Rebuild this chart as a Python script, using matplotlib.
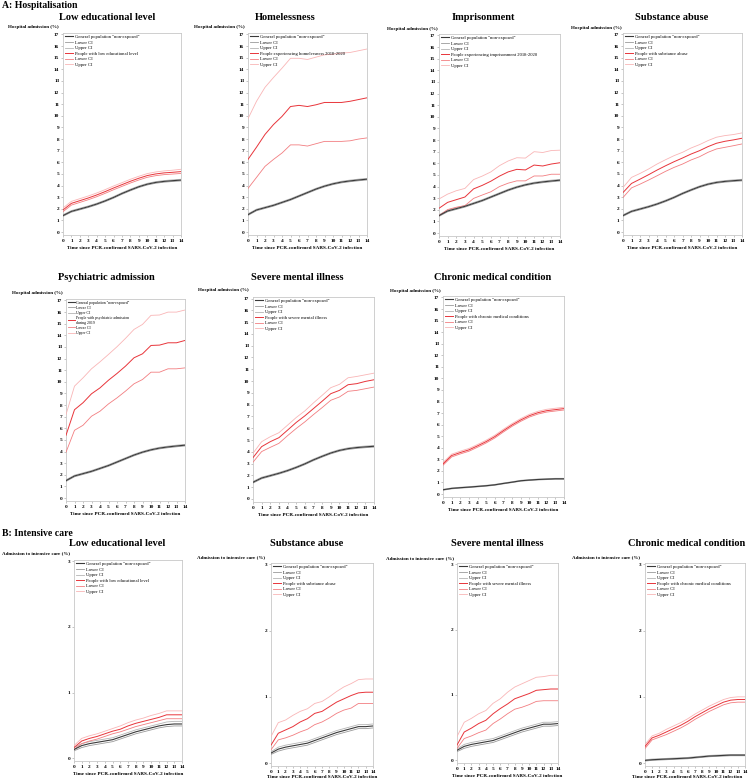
import matplotlib
matplotlib.use("Agg")
import matplotlib.pyplot as plt

plt.rcParams['font.family'] = ['Liberation Serif', 'DejaVu Serif']

W, H = 748, 783

days = list(range(15))

# ---- A: Hospitalisation, general population ("non-exposed") ----
hosp_gen_a = [1.42, 1.78, 1.98, 2.18, 2.41, 2.68, 2.98, 3.32, 3.62, 3.90, 4.12, 4.27, 4.36, 4.42, 4.47]
hosp_gen_a_lo = [1.35, 1.71, 1.91, 2.11, 2.34, 2.61, 2.91, 3.25, 3.55, 3.83, 4.05, 4.20, 4.29, 4.35, 4.40]
hosp_gen_a_hi = [1.49, 1.85, 2.05, 2.25, 2.48, 2.75, 3.05, 3.39, 3.69, 3.97, 4.19, 4.34, 4.43, 4.49, 4.54]
hosp_gen_b = [1.50, 1.90, 2.10, 2.30, 2.55, 2.80, 3.10, 3.40, 3.70, 3.95, 4.15, 4.30, 4.40, 4.48, 4.55]
hosp_gen_b_lo = [1.43, 1.83, 2.03, 2.23, 2.48, 2.73, 3.03, 3.33, 3.63, 3.88, 4.08, 4.23, 4.33, 4.41, 4.48]
hosp_gen_b_hi = [1.57, 1.97, 2.17, 2.37, 2.62, 2.87, 3.17, 3.47, 3.77, 4.02, 4.22, 4.37, 4.47, 4.55, 4.62]
hosp_gen_chronic = [0.37, 0.49, 0.55, 0.60, 0.66, 0.72, 0.80, 0.92, 1.03, 1.15, 1.21, 1.26, 1.29, 1.32, 1.32]
hosp_gen_chronic_lo = [0.33, 0.45, 0.51, 0.56, 0.62, 0.68, 0.76, 0.88, 0.99, 1.11, 1.17, 1.22, 1.25, 1.28, 1.28]
hosp_gen_chronic_hi = [0.41, 0.53, 0.59, 0.64, 0.70, 0.76, 0.84, 0.96, 1.07, 1.19, 1.25, 1.30, 1.33, 1.36, 1.36]

# ---- A: Hospitalisation, exposed groups ----
hosp_lowedu = [1.90, 2.47, 2.70, 2.93, 3.19, 3.48, 3.79, 4.08, 4.37, 4.63, 4.86, 5.00, 5.09, 5.14, 5.20]
hosp_lowedu_lo = [1.75, 2.32, 2.55, 2.78, 3.04, 3.33, 3.64, 3.93, 4.22, 4.48, 4.71, 4.85, 4.94, 4.99, 5.04]
hosp_lowedu_hi = [2.07, 2.64, 2.87, 3.10, 3.36, 3.65, 3.96, 4.25, 4.54, 4.80, 5.03, 5.17, 5.26, 5.32, 5.40]

hosp_homeless = [6.25, 7.30, 8.40, 9.25, 9.95, 10.80, 10.90, 10.80, 10.95, 11.15, 11.15, 11.15, 11.25, 11.40, 11.55]
hosp_homeless_lo = [3.75, 4.70, 5.65, 6.25, 6.80, 7.50, 7.50, 7.40, 7.60, 7.80, 7.80, 7.80, 7.85, 8.00, 8.10]
hosp_homeless_hi = [9.75, 11.25, 12.45, 13.30, 14.10, 14.95, 14.95, 14.85, 15.05, 15.25, 15.30, 15.40, 15.45, 15.60, 15.75]

hosp_prison = [2.13, 2.64, 2.87, 3.10, 3.80, 4.10, 4.46, 4.90, 5.26, 5.48, 5.43, 5.85, 5.77, 5.94, 6.05]
hosp_prison_lo = [1.50, 2.02, 2.22, 2.36, 2.98, 3.27, 3.55, 4.00, 4.29, 4.49, 4.49, 4.91, 4.91, 5.06, 5.06]
hosp_prison_hi = [2.93, 3.35, 3.64, 3.84, 4.60, 4.90, 5.26, 5.80, 6.20, 6.48, 6.45, 7.00, 6.93, 7.10, 7.13]

hosp_subst = [3.40, 4.18, 4.55, 4.93, 5.33, 5.70, 6.05, 6.37, 6.71, 7.00, 7.35, 7.64, 7.81, 7.93, 8.07]
hosp_subst_lo = [2.97, 3.80, 4.12, 4.47, 4.84, 5.22, 5.56, 5.85, 6.20, 6.48, 6.86, 7.15, 7.29, 7.43, 7.58]
hosp_subst_hi = [3.83, 4.70, 5.04, 5.42, 5.85, 6.22, 6.57, 6.86, 7.23, 7.52, 7.87, 8.16, 8.30, 8.39, 8.53]

hosp_psych = [5.40, 7.60, 8.20, 8.97, 9.48, 10.14, 10.72, 11.35, 12.07, 12.41, 13.13, 13.16, 13.36, 13.36, 13.56]
hosp_psych_lo = [3.94, 5.83, 6.26, 7.04, 7.47, 8.10, 8.62, 9.20, 9.83, 10.20, 10.83, 10.83, 11.12, 11.12, 11.20]
hosp_psych_hi = [7.18, 9.63, 10.34, 11.12, 11.72, 12.36, 13.02, 13.74, 14.51, 14.94, 15.72, 15.75, 16.00, 16.00, 16.18]

hosp_smi = [3.51, 4.44, 4.86, 5.20, 5.84, 6.49, 7.05, 7.67, 8.29, 8.93, 9.21, 9.69, 9.78, 9.97, 10.11]
hosp_smi_lo = [3.12, 4.02, 4.38, 4.72, 5.37, 5.98, 6.54, 7.16, 7.75, 8.37, 8.65, 9.13, 9.21, 9.35, 9.49]
hosp_smi_hi = [3.88, 4.86, 5.28, 5.62, 6.26, 6.91, 7.47, 8.15, 8.79, 9.44, 9.72, 10.28, 10.39, 10.53, 10.67]

hosp_chronic = [2.61, 3.33, 3.59, 3.82, 4.17, 4.54, 4.97, 5.49, 5.98, 6.41, 6.78, 7.04, 7.21, 7.30, 7.39]
hosp_chronic_lo = [2.49, 3.21, 3.47, 3.70, 4.05, 4.42, 4.85, 5.37, 5.86, 6.29, 6.66, 6.92, 7.09, 7.18, 7.27]
hosp_chronic_hi = [2.73, 3.45, 3.71, 3.94, 4.29, 4.66, 5.09, 5.61, 6.10, 6.53, 6.90, 7.16, 7.33, 7.42, 7.51]

# ---- B: Intensive care ----
icu_gen_a = [0.13, 0.19, 0.22, 0.24, 0.26, 0.28, 0.32, 0.36, 0.40, 0.43, 0.46, 0.49, 0.51, 0.52, 0.52]
icu_gen_a_lo = [0.11, 0.16, 0.19, 0.21, 0.23, 0.25, 0.29, 0.33, 0.37, 0.40, 0.43, 0.46, 0.48, 0.49, 0.49]
icu_gen_a_hi = [0.16, 0.22, 0.25, 0.27, 0.29, 0.31, 0.35, 0.39, 0.43, 0.46, 0.49, 0.52, 0.55, 0.56, 0.56]
icu_gen_b = [0.15, 0.21, 0.24, 0.26, 0.28, 0.30, 0.34, 0.38, 0.42, 0.46, 0.49, 0.52, 0.55, 0.55, 0.56]
icu_gen_b_lo = [0.13, 0.18, 0.21, 0.23, 0.25, 0.27, 0.31, 0.35, 0.39, 0.43, 0.46, 0.49, 0.52, 0.52, 0.53]
icu_gen_b_hi = [0.17, 0.24, 0.27, 0.29, 0.31, 0.33, 0.37, 0.41, 0.45, 0.49, 0.52, 0.55, 0.58, 0.58, 0.59]
icu_gen_chronic = [0.04, 0.05, 0.055, 0.06, 0.065, 0.07, 0.075, 0.085, 0.095, 0.105, 0.11, 0.115, 0.12, 0.12, 0.12]
icu_gen_chronic_lo = [0.03, 0.04, 0.045, 0.05, 0.055, 0.06, 0.065, 0.075, 0.085, 0.095, 0.10, 0.105, 0.11, 0.11, 0.11]
icu_gen_chronic_hi = [0.05, 0.06, 0.065, 0.07, 0.075, 0.08, 0.085, 0.095, 0.105, 0.115, 0.12, 0.125, 0.13, 0.13, 0.13]

icu_lowedu = [0.16, 0.26, 0.30, 0.33, 0.37, 0.41, 0.44, 0.49, 0.53, 0.56, 0.59, 0.62, 0.66, 0.66, 0.66]
icu_lowedu_lo = [0.13, 0.22, 0.26, 0.29, 0.33, 0.37, 0.40, 0.44, 0.48, 0.51, 0.54, 0.57, 0.60, 0.60, 0.60]
icu_lowedu_hi = [0.19, 0.30, 0.34, 0.37, 0.41, 0.45, 0.49, 0.54, 0.58, 0.61, 0.65, 0.68, 0.72, 0.72, 0.72]

icu_subst = [0.27, 0.45, 0.50, 0.55, 0.62, 0.67, 0.75, 0.78, 0.85, 0.92, 0.97, 1.02, 1.06, 1.07, 1.07]
icu_subst_lo = [0.20, 0.35, 0.38, 0.42, 0.47, 0.51, 0.58, 0.62, 0.68, 0.75, 0.80, 0.83, 0.90, 0.90, 0.90]
icu_subst_hi = [0.40, 0.61, 0.65, 0.72, 0.78, 0.82, 0.90, 0.93, 1.00, 1.08, 1.15, 1.20, 1.26, 1.27, 1.27]

icu_smi = [0.23, 0.43, 0.49, 0.56, 0.61, 0.71, 0.79, 0.86, 0.94, 0.98, 1.02, 1.07, 1.08, 1.09, 1.09]
icu_smi_lo = [0.18, 0.33, 0.37, 0.42, 0.46, 0.56, 0.63, 0.71, 0.78, 0.81, 0.85, 0.90, 0.91, 0.91, 0.91]
icu_smi_hi = [0.36, 0.58, 0.64, 0.71, 0.76, 0.87, 0.94, 1.04, 1.12, 1.17, 1.22, 1.27, 1.28, 1.30, 1.30]

icu_chronic = [0.25, 0.38, 0.42, 0.47, 0.52, 0.57, 0.63, 0.70, 0.76, 0.82, 0.87, 0.92, 0.95, 0.96, 0.96]
icu_chronic_lo = [0.22, 0.35, 0.39, 0.43, 0.48, 0.53, 0.59, 0.66, 0.72, 0.78, 0.83, 0.88, 0.91, 0.92, 0.92]
icu_chronic_hi = [0.28, 0.41, 0.45, 0.51, 0.56, 0.61, 0.67, 0.74, 0.80, 0.86, 0.91, 0.96, 0.99, 1.00, 1.00]

HOSP_LABEL = "Hospital admission (%)"
ICU_LABEL = "Admission to intensive care (%)"
XLABEL = "Time since PCR-confirmed SARS-CoV-2 infection"

fig = plt.figure(figsize=(W / 100, H / 100), dpi=100)


def ftext(x, y, s, **kw):
    """Place text at pixel coords (origin top-left)."""
    fig.text(x / W, 1 - y / H, s, **kw)


def draw_panel(box, title, title_x, title_y, ylab, ylab_x, ylab_y, ymax,
               gen, exp, exp_label, leg_size=3.3, xlab_xy=None):
    """box = (left, top, right, bottom) in pixels."""
    l, t, r, b = box
    ax = fig.add_axes([l / W, 1 - b / H, (r - l) / W, (b - t) / H])

    g, g_lo, g_hi = gen
    e, e_lo, e_hi = exp
    ax.plot(days, g, color="#3a3a3a", lw=0.8, label='General population "non-exposed"', zorder=4)
    ax.plot(days, g_lo, color="#9a9a9a", lw=0.6, label="Lower CI", zorder=3)
    ax.plot(days, g_hi, color="#b4b4b4", lw=0.6, label="Upper CI", zorder=3)
    ax.plot(days, e, color="#e8343a", lw=0.7, label=exp_label, zorder=4)
    ax.plot(days, e_lo, color="#f27d80", lw=0.6, label="Lower CI", zorder=3)
    ax.plot(days, e_hi, color="#f9b5b6", lw=0.6, label="Upper CI", zorder=3)

    ax.set_xlim(0, 14)
    pad = ymax * 0.015
    ax.set_ylim(-pad, ymax + pad * 0.5)
    ax.set_xticks(days)
    ax.set_yticks(range(ymax + 1))
    ax.tick_params(labelsize=3.8, length=1.2, width=0.4, pad=1.5, color="#999999")
    for lab in ax.get_xticklabels() + ax.get_yticklabels():
        lab.set_fontweight("bold")
    for sp in ax.spines.values():
        sp.set_color("#c8c8c8")
        sp.set_linewidth(0.6)

    ax.legend(loc="upper left", frameon=False, fontsize=leg_size,
              handlelength=1.8, handletextpad=0.5, labelspacing=0.3,
              borderaxespad=0.2, borderpad=0.2)

    ftext(title_x, title_y, title, ha="center", va="center",
          fontsize=7.5, fontweight="bold")
    ftext(ylab_x, ylab_y, ylab, ha="left", va="center",
          fontsize=3.6, fontweight="bold")
    if xlab_xy is None:
        xlab_xy = ((l + r) / 2, b + 13)
    ftext(xlab_xy[0], xlab_xy[1], XLABEL, ha="center", va="center",
          fontsize=3.7, fontweight="bold")
    return ax


# Section headers
ftext(2, 6, "A: Hospitalisation", ha="left", va="center", fontsize=7, fontweight="bold")
ftext(2, 533, "B: Intensive care", ha="left", va="center", fontsize=7, fontweight="bold")

hgA = (hosp_gen_a, hosp_gen_a_lo, hosp_gen_a_hi)
hgB = (hosp_gen_b, hosp_gen_b_lo, hosp_gen_b_hi)
hgC = (hosp_gen_chronic, hosp_gen_chronic_lo, hosp_gen_chronic_hi)
igA = (icu_gen_a, icu_gen_a_lo, icu_gen_a_hi)
igB = (icu_gen_b, icu_gen_b_lo, icu_gen_b_hi)
igC = (icu_gen_chronic, icu_gen_chronic_lo, icu_gen_chronic_hi)

# Row 1
draw_panel((63, 33, 181, 235), "Low educational level", 107, 17, HOSP_LABEL, 8, 27, 17,
           hgA, (hosp_lowedu, hosp_lowedu_lo, hosp_lowedu_hi), "People with low educational level")
draw_panel((248, 33, 367, 235), "Homelessness", 285, 17, HOSP_LABEL, 194, 27, 17,
           hgB, (hosp_homeless, hosp_homeless_lo, hosp_homeless_hi),
           "People experiencing homelessness 2018-2020")
draw_panel((439, 34, 560, 236), "Imprisonment", 483, 17, HOSP_LABEL, 387, 29, 17,
           hgB, (hosp_prison, hosp_prison_lo, hosp_prison_hi),
           "People experiencing imprisonment 2018-2020")
draw_panel((623, 33, 742, 235), "Substance abuse", 672, 18, HOSP_LABEL, 571, 28, 17,
           hgA, (hosp_subst, hosp_subst_lo, hosp_subst_hi), "People with substance abuse")

# Row 2
draw_panel((66, 299, 185, 501), "Psychiatric admission", 106, 278, HOSP_LABEL, 12, 293, 17,
           hgB, (hosp_psych, hosp_psych_lo, hosp_psych_hi),
           "People with psychiatric admission\nduring 2019", leg_size=2.8)
draw_panel((253, 297, 374, 502), "Severe mental illness", 297, 278, HOSP_LABEL, 198, 290, 17,
           hgA, (hosp_smi, hosp_smi_lo, hosp_smi_hi), "People with severe mental illness")
draw_panel((443, 296, 564, 497), "Chronic medical condition", 493, 278, HOSP_LABEL, 390, 291, 17,
           hgC, (hosp_chronic, hosp_chronic_lo, hosp_chronic_hi),
           "People with chronic medical conditions")

# Row 3
draw_panel((74, 560, 182, 761), "Low educational level", 117, 544, ICU_LABEL, 2, 553, 3,
           igA, (icu_lowedu, icu_lowedu_lo, icu_lowedu_hi), "People with low educational level",
           xlab_xy=(128, 774))
draw_panel((271, 563, 373, 766), "Substance abuse", 307, 544, ICU_LABEL, 197, 557, 3,
           igB, (icu_subst, icu_subst_lo, icu_subst_hi), "People with substance abuse",
           xlab_xy=(322, 777))
draw_panel((457, 563, 558, 763), "Severe mental illness", 497, 544, ICU_LABEL, 386, 558, 3,
           igB, (icu_smi, icu_smi_lo, icu_smi_hi), "People with severe mental illness",
           xlab_xy=(507, 776))
draw_panel((645, 563, 745, 766), "Chronic medical condition", 687, 544, ICU_LABEL, 572, 557, 3,
           igC, (icu_chronic, icu_chronic_lo, icu_chronic_hi),
           "People with chronic medical conditions",
           xlab_xy=(687, 777))

fig.savefig("out.png", dpi=100)
